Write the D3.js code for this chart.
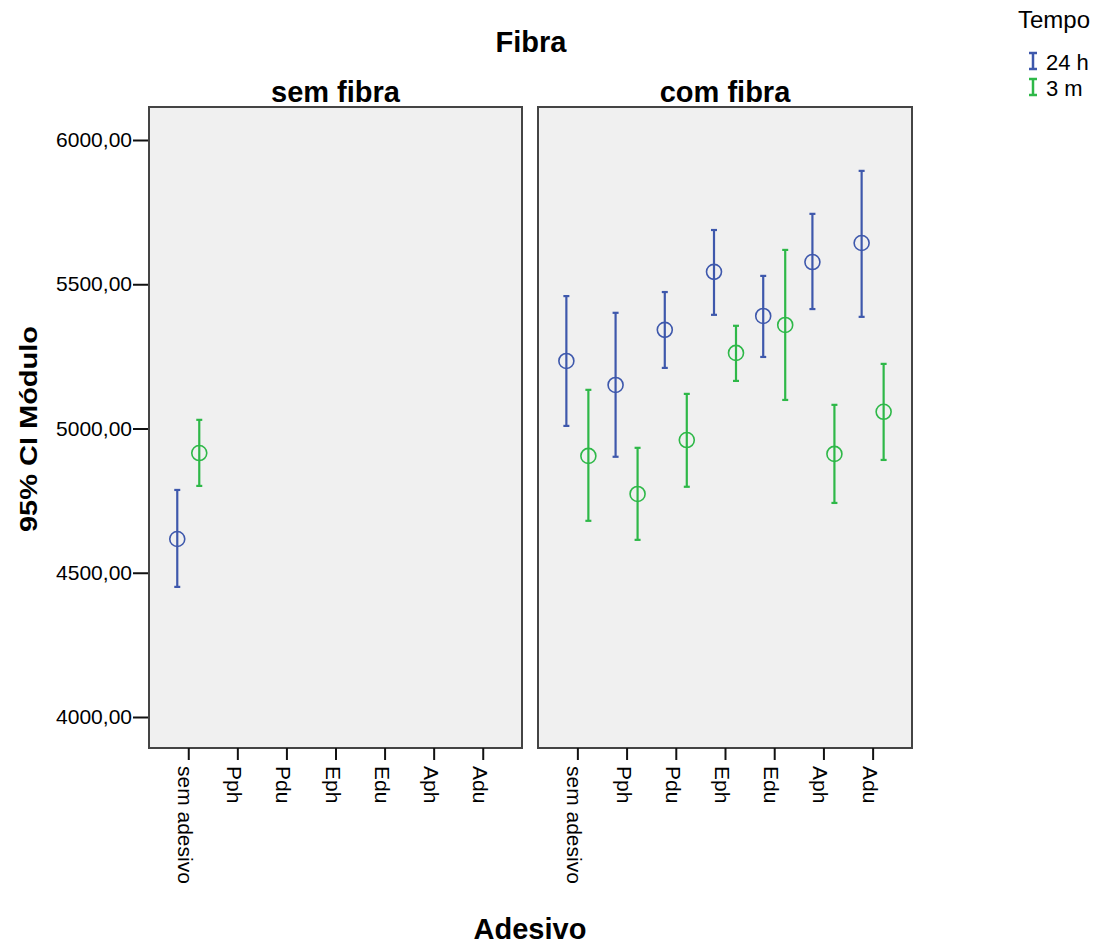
<!DOCTYPE html>
<head>
  <meta charset="utf-8">
  <script src="https://d3js.org/d3.v7.min.js"></script>
  <style>
    body { margin: 0; background: #fff; }
    text { font-family: Arial, "Liberation Sans", sans-serif; fill: #000; }
  </style>
</head>
<body>
  <svg width="1103" height="945"></svg>
  <script>
    // data
    const adesivos = ['sem adesivo', 'Pph', 'Pdu', 'Eph', 'Edu', 'Aph', 'Adu'];
    const fibras = ['sem fibra', 'com fibra'];
    const tempos = ['24 h', '3 m'];
    const yTicks = [4000, 4500, 5000, 5500, 6000];

    // [adesivo, mean, lower, upper]
    const semFibra24h = [['sem adesivo', 4617, 4451, 4787]];
    const semFibra3m = [['sem adesivo', 4915, 4801, 5030]];
    const comFibra24h = [
      ['sem adesivo', 5234, 5009, 5459],
      ['Pph', 5151, 4902, 5401],
      ['Pdu', 5342, 5210, 5473],
      ['Eph', 5543, 5394, 5688],
      ['Edu', 5390, 5248, 5529],
      ['Aph', 5577, 5414, 5744],
      ['Adu', 5643, 5387, 5893]
    ];
    const comFibra3m = [
      ['sem adesivo', 4905, 4680, 5134],
      ['Pph', 4773, 4614, 4933],
      ['Pdu', 4960, 4798, 5120],
      ['Eph', 5262, 5165, 5356],
      ['Edu', 5359, 5099, 5619],
      ['Aph', 4912, 4742, 5082],
      ['Adu', 5058, 4891, 5224]
    ];

    const colors = { '24 h': '#3e58ac', '3 m': '#2eb848' };

    const rows = [];
    const add = (arr, fibra, tempo) => arr.forEach(d => rows.push({
      fibra, tempo, adesivo: d[0], mean: d[1], lo: d[2], hi: d[3]
    }));
    add(semFibra24h, 'sem fibra', '24 h');
    add(semFibra3m, 'sem fibra', '3 m');
    add(comFibra24h, 'com fibra', '24 h');
    add(comFibra3m, 'com fibra', '3 m');

    const svg = d3.select('svg');
    const plotTop = 107, plotBottom = 748;
    const panelX = { 'sem fibra': [149, 522], 'com fibra': [538, 912] };

    const y = d3.scaleLinear()
      .domain([4000, 6000])
      .range([717, 140]);

    const offset = d3.scalePoint().domain(tempos).range([-11, 11]);

    // y axis
    const yAxis = svg.append('g')
      .attr('transform', `translate(${panelX['sem fibra'][0]},0)`)
      .call(d3.axisLeft(y).tickValues(yTicks).tickSize(16).tickPadding(1)
        .tickFormat(d => d3.format('.2f')(d).replace('.', ',')));
    yAxis.select('.domain').remove();
    yAxis.selectAll('line').attr('stroke', '#111').attr('stroke-width', 2);
    yAxis.selectAll('text').attr('font-size', 21).attr('fill', '#222')
      .attr('font-family', 'Arial, "Liberation Sans", sans-serif');

    fibras.forEach(f => {
      const [x0, x1] = panelX[f];
      const x = d3.scalePoint().domain(adesivos).range([x0, x1]).padding(0.8);
      const g = svg.append('g');

      g.append('rect')
        .attr('x', x0).attr('y', plotTop)
        .attr('width', x1 - x0).attr('height', plotBottom - plotTop)
        .attr('fill', '#f0f0f0')
        .attr('stroke', '#444').attr('stroke-width', 2);

      g.append('text')
        .attr('x', (x0 + x1) / 2).attr('y', 102)
        .attr('text-anchor', 'middle')
        .attr('font-size', 29).attr('font-weight', 'bold')
        .text(f);

      const xAxis = g.append('g')
        .attr('transform', `translate(0,${plotBottom})`)
        .call(d3.axisBottom(x).tickSize(12).tickPadding(0));
      xAxis.select('.domain').remove();
      xAxis.selectAll('line').attr('stroke', '#111').attr('stroke-width', 2);
      xAxis.selectAll('text')
        .attr('font-size', 21).attr('fill', '#222')
        .attr('font-family', 'Arial, "Liberation Sans", sans-serif')
        .attr('text-anchor', 'start')
        .attr('x', 0).attr('y', 0)
        .attr('dy', '0.5em')
        .attr('transform', 'translate(0,18) rotate(90)');

      const pts = rows.filter(r => r.fibra === f);
      const cx = d => x(d.adesivo) + offset(d.tempo);
      const bars = g.selectAll('.bar').data(pts).join('g')
        .attr('stroke', d => colors[d.tempo]).attr('stroke-width', 2.2);
      bars.append('line')
        .attr('x1', cx).attr('x2', cx)
        .attr('y1', d => y(d.lo)).attr('y2', d => y(d.hi));
      bars.append('line')
        .attr('x1', d => cx(d) - 3).attr('x2', d => cx(d) + 3)
        .attr('y1', d => y(d.hi)).attr('y2', d => y(d.hi));
      bars.append('line')
        .attr('x1', d => cx(d) - 3).attr('x2', d => cx(d) + 3)
        .attr('y1', d => y(d.lo)).attr('y2', d => y(d.lo));
      bars.append('circle')
        .attr('cx', cx).attr('cy', d => y(d.mean)).attr('r', 7.5)
        .attr('fill', 'none').attr('stroke-width', 1.6);
    });

    // titles
    svg.append('text').attr('x', 531).attr('y', 52)
      .attr('text-anchor', 'middle').attr('font-size', 29).attr('font-weight', 'bold')
      .text('Fibra');
    svg.append('text').attr('x', 530).attr('y', 939)
      .attr('text-anchor', 'middle').attr('font-size', 29).attr('font-weight', 'bold')
      .text('Adesivo');
    svg.append('text')
      .attr('transform', 'translate(37,429) rotate(-90)')
      .attr('text-anchor', 'middle').attr('font-size', 24).attr('font-weight', 'bold')
      .attr('textLength', 206).attr('lengthAdjust', 'spacingAndGlyphs')
      .text('95% CI Módulo');

    // legend
    const legend = svg.append('g');
    legend.append('text').attr('x', 1018).attr('y', 28)
      .attr('font-size', 24).attr('fill', '#222').text('Tempo');
    tempos.forEach((t, i) => {
      const ly = 62 + i * 26;
      const lg = legend.append('g').attr('stroke', colors[t]).attr('stroke-width', 2.5);
      lg.append('line').attr('x1', 1033).attr('x2', 1033).attr('y1', ly - 9).attr('y2', ly + 7);
      lg.append('line').attr('x1', 1029).attr('x2', 1037).attr('y1', ly - 9).attr('y2', ly - 9);
      lg.append('line').attr('x1', 1029).attr('x2', 1037).attr('y1', ly + 7).attr('y2', ly + 7);
      legend.append('text').attr('x', 1046).attr('y', ly + 8)
        .attr('font-size', 22).attr('fill', '#222').text(t);
    });
  </script>
</body>
